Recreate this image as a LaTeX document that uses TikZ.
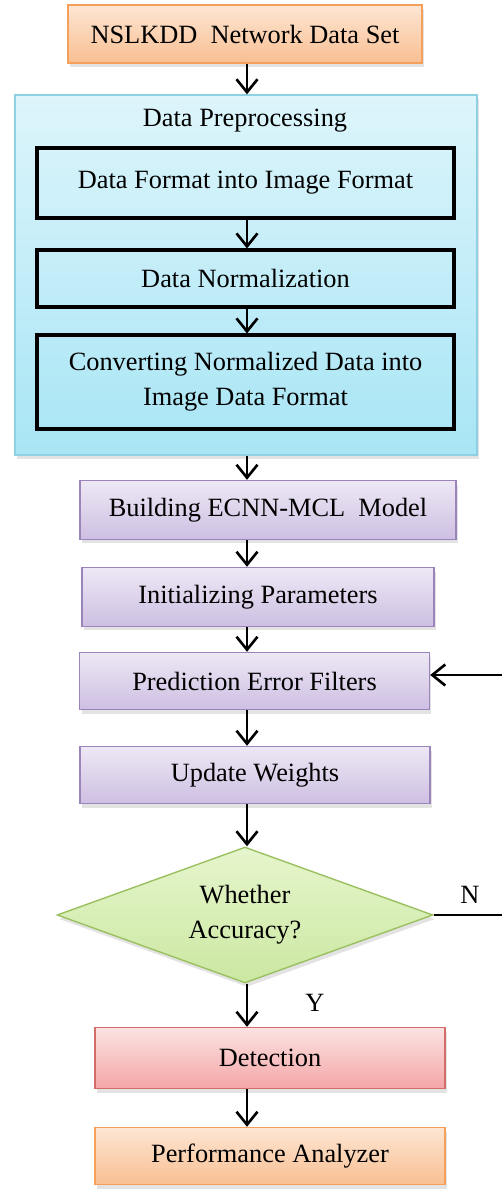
\documentclass[tikz,border=0pt]{standalone}
\usepackage{fontspec}
\setmainfont{Liberation Serif}
\usepackage{tikz}
\usetikzlibrary{arrows.meta, shapes.geometric, shadows}

\definecolor{orgTop}{HTML}{FDE6D3}
\definecolor{orgBot}{HTML}{F9BF92}
\definecolor{orgLine}{HTML}{F5A05A}
\definecolor{cyTop}{HTML}{DDF5FB}
\definecolor{cyBot}{HTML}{A8E5F5}
\definecolor{cyLine}{HTML}{8FD0E2}
\definecolor{puTop}{HTML}{EEE8F5}
\definecolor{puBot}{HTML}{CDBFE2}
\definecolor{puLine}{HTML}{9A84BA}
\definecolor{grTop}{HTML}{E6F5CC}
\definecolor{grBot}{HTML}{CBE8A2}
\definecolor{grLine}{HTML}{9BC060}
\definecolor{rdTop}{HTML}{FCE2E2}
\definecolor{rdBot}{HTML}{F4A6A7}
\definecolor{rdLine}{HTML}{D46C6C}

\begin{document}
\begin{tikzpicture}[x=0.02cm, y=-0.02cm, font=\fontsize{15}{20}\selectfont,
    shade/.style = {drop shadow={opacity=0.22, shadow xshift=0.4mm, shadow yshift=-0.8mm}},
    srcbox/.style = {draw=orgLine, line width=0.8pt, top color=orgTop, bottom color=orgBot, shade, align=center},
    groupbox/.style = {draw=cyLine, line width=0.8pt, top color=cyTop, bottom color=cyBot, shade},
    subbox/.style = {draw, line width=1.8pt, minimum width=8.34cm, align=center},
    stepbox/.style = {draw=puLine, line width=0.8pt, top color=puTop, bottom color=puBot, shade, align=center},
    testbox/.style = {diamond, aspect=2.8, draw=grLine, line width=0.8pt, top color=grTop, bottom color=grBot, shade, align=center, inner sep=0pt},
    detbox/.style = {draw=rdLine, line width=0.8pt, top color=rdTop, bottom color=rdBot, shade, align=center},
    arr/.style = {-{Straight Barb[length=2.6mm, width=4.2mm]}, line width=1.5pt}]
    \useasboundingbox (0,0) rectangle (502,1189);
    \clip (0,0) rectangle (502,1189);
    \coordinate (spine) at (247,0);
    \coordinate (loop) at (520,0);

    \node[srcbox, minimum width=7.08cm, minimum height=1.16cm] (src) at (245,34) {NSLKDD\ \ Network Data Set};

    \node[groupbox, minimum width=9.24cm, minimum height=7.2cm] (prep) at (246,275) {};
    \node (prepT) at (245,121) {Data Preprocessing};
    \node[subbox, minimum height=1.4cm] (fmt) at (245.5,183) {Data Format into Image Format};
    \node[subbox, minimum height=1.14cm] (norm) at (245.5,278.5) {Data Normalization};
    \node[subbox, minimum height=1.88cm] (conv) at (245.5,382) {Converting Normalized Data into\\Image Data Format};

    \node[stepbox, minimum width=7.52cm, minimum height=1.18cm] (build) at (268,510) {Building ECNN-MCL\ \ Model};
    \node[stepbox, minimum width=7.04cm, minimum height=1.18cm] (init) at (258,597) {Initializing Parameters};
    \node[stepbox, minimum width=7.0cm, minimum height=1.14cm] (pred) at (254.5,681) {Prediction Error Filters};
    \node[stepbox, minimum width=7.0cm, minimum height=1.14cm] (upd) at (255,775) {Update Weights};

    \node[testbox, minimum width=7.52cm, minimum height=2.72cm] (acc) at (245,915) {Whether\\Accuracy?};

    \node[detbox, minimum width=7.0cm, minimum height=1.22cm] (det) at (270,1058) {Detection};
    \node[srcbox, minimum width=7.0cm, minimum height=1.14cm] (perf) at (270,1156) {Performance Analyzer};

    \node (no) at (470,895) {N};
    \node (yes) at (315,1003) {Y};

    \path[arr] (src.south -| spine) edge (prep.north -| spine);
    \path[arr] (fmt.south -| spine) edge (norm.north -| spine);
    \path[arr] (norm.south -| spine) edge (conv.north -| spine);
    \path[arr] (prep.south -| spine) edge (build.north -| spine);
    \path[arr] (build.south -| spine) edge (init.north -| spine);
    \path[arr] (init.south -| spine) edge (pred.north -| spine);
    \path[arr] (pred.south -| spine) edge (upd.north -| spine);
    \path[arr] (upd.south -| spine) edge (acc.north -| spine);
    \path[arr] (acc.south -| spine) edge (det.north -| spine);
    \path[arr] (det.south -| spine) edge (perf.north -| spine);

    % back to the filters when not accurate
    \draw[arr] (acc.east) -- (acc.east -| loop) |- ([yshift=0.12cm]pred.east);
\end{tikzpicture}
\end{document}
